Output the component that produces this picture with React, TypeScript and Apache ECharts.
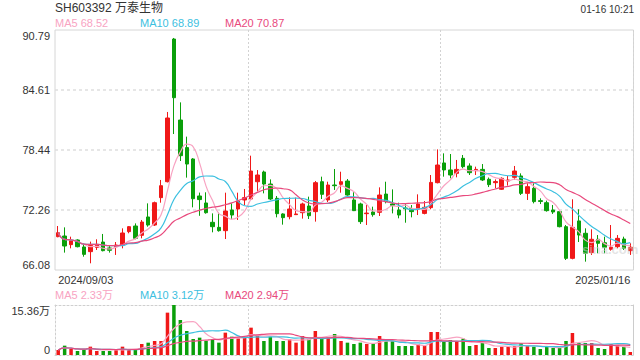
import React, { useEffect, useRef } from 'react';
import * as echarts from 'echarts';

const sepDays = [3, 4, 5, 6, 9, 10, 11, 12, 13, 18, 19, 20, 23, 24, 25, 26, 27, 30];
const octDays = [8, 9, 10, 11, 14, 15, 16, 17, 18, 21, 22, 23, 24, 25, 28, 29, 30, 31];
const novDays = [1, 4, 5, 6, 7, 8, 11, 12, 13, 14, 15, 18, 19, 20, 21, 22, 25, 26, 27, 28, 29];
const decDays = [2, 3, 4, 5, 6, 9, 10, 11, 12, 13, 16, 17, 18, 19, 20, 23, 24, 25, 26, 27, 30, 31];
const janDays = [2, 3, 6, 7, 8, 9, 10, 13, 14, 15, 16];

const pad = (d: number) => (d < 10 ? '0' + d : '' + d);
const dates: string[] = [
  ...sepDays.map((d) => `2024/09/${pad(d)}`),
  ...octDays.map((d) => `2024/10/${pad(d)}`),
  ...novDays.map((d) => `2024/11/${pad(d)}`),
  ...decDays.map((d) => `2024/12/${pad(d)}`),
  ...janDays.map((d) => `2025/01/${pad(d)}`),
];

const opens = [69.51, 69.58, 68.69, 69.17, 68.45, 67.97, 68.41, 68.96, 68.35, 68.48,
  68.69, 70.03, 70.61, 69.65, 71.54, 70.71, 73.53, 75.17, 89.86, 81.52,
  78.68, 77.51, 73.70, 72.98, 70.99, 70.47, 70.13, 72.26, 72.36, 73.29,
  73.39, 75.17, 76.17, 74.93, 73.46, 71.85, 71.57, 71.78, 71.98, 72.67,
  72.09, 75.17, 73.29, 74.83, 74.90, 75.24, 73.29, 72.88, 71.88, 72.05,
  72.02, 73.90, 72.88, 72.26, 72.46, 72.39, 72.33, 71.91, 72.50, 75.07,
  77.10, 76.38, 76.03, 77.58, 76.79, 76.31, 76.44, 75.42, 75.07, 74.39,
  75.24, 75.62, 75.76, 73.97, 74.49, 73.22, 73.01, 72.26, 72.09, 70.54,
  67.28, 71.13, 69.86, 67.87, 69.24, 68.89, 68.21, 68.48, 69.27, 68.07];

const closes = [69.92, 68.55, 69.10, 68.48, 67.69, 68.62, 68.72, 68.07, 68.11, 68.65,
  69.89, 70.54, 69.34, 71.02, 70.71, 73.01, 74.76, 81.73, 83.82, 77.85,
  76.99, 73.42, 73.33, 71.98, 70.54, 70.13, 72.15, 71.74, 73.18, 73.53,
  76.27, 75.86, 74.93, 73.39, 71.88, 71.47, 72.36, 71.85, 72.88, 71.67,
  75.07, 73.87, 74.83, 74.76, 75.17, 73.80, 72.19, 71.06, 71.94, 71.78,
  73.80, 73.12, 72.74, 71.74, 72.39, 72.09, 72.88, 72.53, 75.10, 76.89,
  76.38, 75.86, 76.44, 76.72, 76.10, 76.44, 75.35, 74.87, 75.18, 75.52,
  75.35, 76.27, 73.97, 74.66, 73.12, 73.14, 72.19, 72.05, 70.54, 67.28,
  70.47, 69.68, 67.80, 69.24, 68.83, 68.42, 68.42, 69.34, 68.31, 68.42];

const lows = [69.45, 67.87, 68.31, 68.41, 67.45, 66.77, 68.14, 68.00, 67.87, 67.63,
  68.31, 69.86, 69.24, 69.34, 70.54, 70.61, 73.01, 75.10, 80.08, 77.30,
  75.59, 72.53, 71.66, 71.88, 69.96, 70.03, 69.27, 71.30, 71.23, 72.77,
  73.29, 74.14, 73.97, 73.29, 71.50, 70.75, 71.30, 71.74, 71.37, 71.33,
  71.06, 73.39, 73.08, 74.32, 74.04, 73.73, 72.15, 70.82, 70.71, 71.57,
  71.64, 72.94, 71.91, 71.40, 70.95, 71.50, 71.74, 71.81, 72.33, 75.00,
  75.69, 75.52, 75.62, 76.55, 75.86, 75.86, 75.24, 74.62, 74.49, 74.32,
  74.77, 75.35, 73.80, 73.29, 72.94, 72.87, 72.09, 71.85, 70.47, 67.11,
  67.18, 68.96, 66.94, 67.63, 67.80, 67.80, 68.07, 68.31, 68.14, 67.63];

const highs = [70.61, 70.47, 69.51, 69.24, 68.83, 69.00, 69.24, 69.79, 68.65, 68.96,
  70.37, 70.61, 70.88, 71.23, 72.94, 73.12, 75.35, 82.35, 89.97, 83.34,
  79.81, 77.60, 74.05, 74.08, 71.91, 71.98, 74.04, 72.94, 74.04, 74.42,
  77.85, 76.37, 76.31, 75.41, 73.70, 71.92, 73.56, 73.53, 73.01, 73.63,
  75.24, 75.69, 75.17, 76.48, 76.20, 75.45, 74.08, 73.01, 72.77, 72.60,
  74.59, 75.17, 74.38, 73.01, 72.94, 72.77, 73.87, 73.18, 75.86, 78.50,
  78.09, 78.02, 77.41, 77.92, 77.06, 76.72, 76.99, 75.60, 75.41, 75.62,
  75.76, 76.79, 76.03, 75.00, 75.00, 73.46, 73.22, 72.77, 72.15, 70.71,
  73.36, 72.33, 70.37, 70.27, 69.68, 69.51, 70.71, 69.68, 69.51, 68.83];

// volume in 万
const volumes = [1.54, 2.87, 1.85, 1.23, 1.54, 2.56, 1.23, 1.23, 1.23, 1.54,
  2.56, 1.74, 1.54, 3.38, 3.79, 4.30, 4.30, 13.01, 15.36, 10.75,
  7.37, 4.92, 5.33, 4.30, 4.82, 3.79, 6.86, 5.63, 5.12, 5.33,
  8.40, 5.94, 4.30, 5.63, 4.30, 4.30, 4.82, 3.79, 5.84, 4.92,
  7.37, 5.33, 5.33, 6.45, 4.30, 3.79, 3.38, 3.79, 3.38, 3.38,
  5.84, 4.81, 4.30, 2.76, 2.76, 2.76, 3.28, 2.87, 7.06, 7.06,
  4.30, 4.61, 4.30, 5.02, 2.76, 3.07, 3.69, 2.15, 2.15, 2.56,
  2.56, 2.76, 3.58, 2.76, 2.56, 1.84, 2.56, 2.15, 2.15, 4.30,
  6.76, 3.69, 3.69, 3.69, 2.15, 1.84, 3.38, 3.07, 2.56, 0.92];

const priceTicks = ['66.08', '72.26', '78.44', '84.61', '90.79'];
const volTicks = ['0', '15.36万'];
const priceMin = 66.08;
const priceMax = 90.79;
const volMax = 15.36;

const titleText = 'SH603392 万泰生物';
const timeText = '01-16 10:21';
const priceLegend = ['MA5 68.52', 'MA10 68.89', 'MA20 70.87'];
const volLegend = ['MA5 2.33万', 'MA10 3.12万', 'MA20 2.94万'];

const RED = '#f01818';
const GREEN = '#0a9f0a';
const MA_COLORS = ['#f8a3c2', '#3cc0e0', '#e8497d'];
const FONT = 'Arial, "Liberation Sans", "Noto Sans CJK SC", sans-serif';

function movingAvg(arr: number[], n: number): number[] {
  return arr.map((_, i) => {
    const s = Math.max(0, i - n + 1);
    const w = arr.slice(s, i + 1);
    return +(w.reduce((a, b) => a + b, 0) / w.length).toFixed(3);
  });
}

export default function App() {
  const ref = useRef<HTMLDivElement>(null);

  useEffect(() => {
    if (!ref.current) return;
    const chart = echarts.init(ref.current, undefined, { renderer: 'svg' });

    const candleData = dates.map((_, i) => [opens[i], closes[i], lows[i], highs[i]]);
    const volData = volumes.map((v, i) => ({
      value: v,
      itemStyle: { color: closes[i] >= opens[i] ? RED : GREEN },
    }));
    const periods = [5, 10, 20];

    const splitX = {
      show: true,
      interval: (i: number) => i === 30 || i === 60,
      lineStyle: { color: '#d2d2d2', type: [2, 2] as any, width: 1 },
    };
    const dottedLine = { show: true, lineStyle: { color: '#cfcfcf', type: [2, 2] as any } };

    const legendTexts = (items: string[], top: number) =>
      items.map((t, k) => ({
        type: 'text',
        left: 55 + k * 85,
        top,
        style: { text: t, fill: MA_COLORS[k], font: `11px ${FONT}` },
      }));

    chart.setOption({
      animation: false,
      textStyle: { fontFamily: FONT },
      grid: [
        { left: 55, right: 6.5, top: 30, height: 240, show: true, borderColor: '#d6d6d6', borderWidth: 1 },
        { left: 55, right: 6.5, top: 305, height: 50, show: false },
      ],
      xAxis: [
        {
          type: 'category', gridIndex: 0, data: dates, boundaryGap: true,
          axisLine: { show: false }, axisTick: { show: false },
          axisLabel: {
            interval: (i: number) => i === 0 || i === dates.length - 1,
            color: '#333', fontSize: 11, margin: 4,
            alignMinLabel: 'left', alignMaxLabel: 'right',
          },
          splitLine: splitX,
        },
        {
          type: 'category', gridIndex: 1, data: dates, boundaryGap: true,
          axisLine: dottedLine,
          axisTick: { show: false }, axisLabel: { show: false },
          splitLine: splitX,
        },
        {
          type: 'category', gridIndex: 1, data: dates, boundaryGap: true, position: 'top',
          axisLine: dottedLine,
          axisTick: { show: false }, axisLabel: { show: false }, splitLine: { show: false },
        },
      ],
      yAxis: [
        { type: 'value', gridIndex: 0, min: priceMin, max: priceMax, show: false },
        {
          type: 'category', gridIndex: 0, data: priceTicks, boundaryGap: false, position: 'left',
          axisLine: { show: false }, axisTick: { show: false },
          axisLabel: {
            interval: 0, color: '#333', fontSize: 11, margin: 5,
            verticalAlignMinLabel: 'bottom', verticalAlignMaxLabel: 'top',
          },
          splitLine: {
            show: true,
            interval: (i: number) => i > 0 && i < priceTicks.length - 1,
            lineStyle: { color: '#dedede', type: [3, 3] as any, width: 1.5 },
          },
        },
        { type: 'value', gridIndex: 1, min: 0, max: volMax, show: false },
        {
          type: 'category', gridIndex: 1, data: volTicks, boundaryGap: false, position: 'left',
          axisLine: dottedLine,
          axisTick: { show: false },
          axisLabel: {
            interval: 0, color: '#333', fontSize: 11, margin: 5,
            verticalAlignMinLabel: 'bottom', verticalAlignMaxLabel: 'top',
          },
          splitLine: { show: false },
        },
        {
          type: 'category', gridIndex: 1, data: volTicks, boundaryGap: false, position: 'right',
          axisLine: { show: true, lineStyle: { color: '#cccccc' } },
          axisTick: { show: false }, axisLabel: { show: false }, splitLine: { show: false },
        },
      ],
      series: [
        {
          type: 'candlestick', xAxisIndex: 0, yAxisIndex: 0, data: candleData, barWidth: 4,
          itemStyle: { color: RED, color0: GREEN, borderColor: RED, borderColor0: GREEN, borderWidth: 1 },
        },
        ...periods.map((p, k) => ({
          type: 'line', xAxisIndex: 0, yAxisIndex: 0, data: movingAvg(closes, p),
          showSymbol: false, smooth: true, lineStyle: { color: MA_COLORS[k], width: 1.2 },
        })),
        {
          type: 'bar', xAxisIndex: 1, yAxisIndex: 2, data: volData, barWidth: 3.5,
        },
        ...periods.map((p, k) => ({
          type: 'line', xAxisIndex: 1, yAxisIndex: 2, data: movingAvg(volumes, p),
          showSymbol: false, smooth: true, lineStyle: { color: MA_COLORS[k], width: 1.2 },
        })),
      ],
      graphic: [
        { type: 'text', left: 55, top: 2, style: { text: titleText, fill: '#333', font: `12px ${FONT}` } },
        { type: 'text', right: 6, top: 4, style: { text: timeText, fill: '#333', font: `10px ${FONT}` } },
        ...legendTexts(priceLegend, 17),
        ...legendTexts(volLegend, 289),
        {
          type: 'text', left: 582, top: 243, z: 100,
          style: { text: 'sina.com', fill: 'rgba(205,205,205,0.55)', font: `bold 13px ${FONT}` },
        },
      ],
    });

    return () => chart.dispose();
  }, []);

  return (
    <div
      ref={ref}
      style={{ position: 'fixed', left: 0, top: 0, width: 640, height: 360, background: '#fff' }}
    />
  );
}
